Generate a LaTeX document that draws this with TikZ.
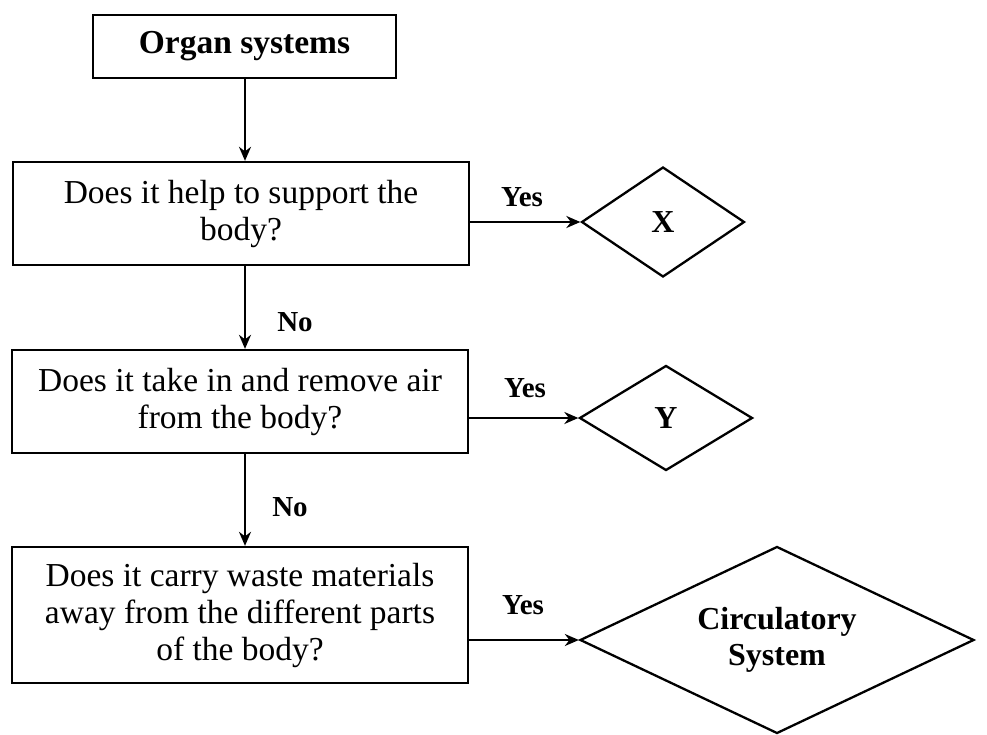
\documentclass[tikz,border=0pt]{standalone}
\usepackage{fontspec}
\setmainfont{Liberation Serif}
\usetikzlibrary{shapes.geometric,arrows.meta}
\begin{document}
\begin{tikzpicture}[x=1pt,y=-1pt,
  qbox/.style={draw=black,line width=2.3pt,minimum width=456pt,align=center,inner sep=0pt,font=\fontsize{33.5}{37}\selectfont},
  dia/.style={draw=black,line width=2.3pt,diamond,inner sep=0pt,align=center,font=\fontsize{32}{36}\selectfont\bfseries},
  conn/.style={line width=2.3pt,-{Stealth[length=14pt,width=12pt]}},
  lab/.style={font=\fontsize{29}{30}\selectfont\bfseries,inner sep=0pt}]
\useasboundingbox (0,0) rectangle (987,735);
\node[qbox,minimum width=303pt,minimum height=63pt,font=\fontsize{33.5}{38}\selectfont\bfseries] (b1) at (244.5,46.5) {Organ systems};
\node[qbox,minimum height=103pt] (b2) at (241,213.5) {Does it help to support the\\body?};
\node[qbox,minimum height=103pt] (b3) at (240,401.5) {Does it take in and remove air\\from the body?};
\node[qbox,minimum height=136pt] (b4) at (240,615) {Does it carry waste materials\\away from the different parts\\of the body?};
\node[dia,aspect=1.5,minimum width=163pt,minimum height=110pt] (dx) at (663,222) {X};
\node[dia,aspect=1.6,minimum width=173pt,minimum height=105pt] (dy) at (666,418) {Y};
\node[dia,aspect=2.1,minimum width=394pt,minimum height=187pt] (dc) at (777,640) {Circulatory\\System};
\coordinate (vx) at (245,0);
\draw[conn] (b1.south -| vx) -- (b2.north -| vx);
\draw[conn] (b2.south -| vx) -- (b3.north -| vx);
\draw[conn] (b3.south -| vx) -- (b4.north -| vx);
\draw[conn] (dx.west -| b2.east) -- (dx.west);
\draw[conn] (dy.west -| b3.east) -- (dy.west);
\draw[conn] (dc.west -| b4.east) -- (dc.west);
\node[lab] (y1) at (522,197) {Yes};
\node[lab] (y2) at (525,388) {Yes};
\node[lab] (y3) at (523,605) {Yes};
\node[lab] (n1) at (295,322) {No};
\node[lab] (n2) at (290,507) {No};
\end{tikzpicture}
\end{document}
